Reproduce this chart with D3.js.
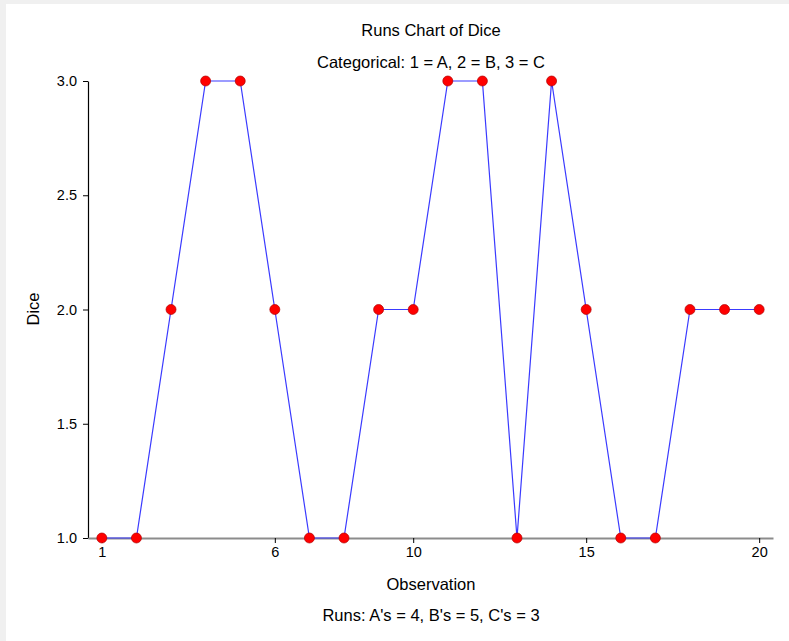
<!DOCTYPE html>
<html>
<head>
<meta charset="utf-8">
<script src="https://cdn.jsdelivr.net/npm/d3@7"></script>
<style>
  html, body { margin: 0; padding: 0; background: #f0f0f0; }
  svg { display: block; }
  text { font-family: "Liberation Sans", Arial, sans-serif; fill: #000; }
</style>
</head>
<body>
<script>
// Data
const observations = d3.range(1, 21);
const diceValues = [1, 1, 2, 3, 3, 2, 1, 1, 2, 2, 3, 3, 1, 3, 2, 1, 1, 2, 2, 2];
const xTickValues = [1, 6, 10, 15, 20];
const yTickValues = [1.0, 1.5, 2.0, 2.5, 3.0];
const titleText = "Runs Chart of Dice";
const subtitleText = "Categorical: 1 = A, 2 = B, 3 = C";
const xLabel = "Observation";
const yLabel = "Dice";
const footerText = "Runs: A's = 4, B's = 5, C's = 3";

const W = 789, H = 641;
const svg = d3.select("body").append("svg").attr("width", W).attr("height", H);

svg.append("rect").attr("x", 0).attr("y", 0).attr("width", W).attr("height", H).attr("fill", "#f0f0f0");
svg.append("rect").attr("x", 6).attr("y", 4).attr("width", W - 6).attr("height", H - 4).attr("fill", "#ffffff");

const x = d3.scaleLinear().domain([0.6, 20.4]).range([88, 773]);
const y = d3.scaleLinear().domain([1, 3]).range([538, 81]);

// Y axis
const yAxis = svg.append("g").attr("transform", `translate(${x.range()[0]},0)`)
  .call(d3.axisLeft(y).tickValues(yTickValues).tickFormat(d3.format(".1f")).tickSize(5).tickSizeOuter(0).tickPadding(6));
yAxis.select(".domain").attr("stroke", "#000").attr("stroke-width", 1.2);
yAxis.selectAll(".tick line").attr("stroke", "#000");
yAxis.selectAll("text").style("font-size", "14.5px").attr("fill", "#000");

// X axis
const xAxis = svg.append("g").attr("transform", `translate(0,${y(1)})`)
  .call(d3.axisBottom(x).tickValues(xTickValues).tickFormat(d3.format("d")).tickSize(5).tickSizeOuter(0).tickPadding(4));
xAxis.select(".domain").attr("stroke", "#8c8c8c").attr("stroke-width", 2);
xAxis.selectAll(".tick line").attr("stroke", "#000");
xAxis.selectAll("text").style("font-size", "14.5px").attr("fill", "#000");

// Line
const line = d3.line().x((d, i) => x(observations[i])).y(d => y(d));
svg.append("path").datum(diceValues)
  .attr("d", line)
  .attr("fill", "none")
  .attr("stroke", "#3a3aff")
  .attr("stroke-width", 1.2);

// Markers
svg.append("g").selectAll("circle").data(diceValues).join("circle")
  .attr("cx", (d, i) => x(observations[i]))
  .attr("cy", d => y(d))
  .attr("r", 5)
  .attr("fill", "#ff0000")
  .attr("stroke", "#b00000")
  .attr("stroke-width", 0.7);

// Texts
const cx = 431;
svg.append("text").attr("x", cx).attr("y", 36).attr("text-anchor", "middle").style("font-size", "16.5px").text(titleText);
svg.append("text").attr("x", cx).attr("y", 68).attr("text-anchor", "middle").style("font-size", "16.5px").text(subtitleText);
svg.append("text").attr("x", cx).attr("y", 590).attr("text-anchor", "middle").style("font-size", "16.5px").text(xLabel);
svg.append("text").attr("x", cx).attr("y", 621).attr("text-anchor", "middle").style("font-size", "16.5px").text(footerText);
svg.append("text").attr("transform", "translate(39,309) rotate(-90)").attr("text-anchor", "middle").style("font-size", "16.5px").text(yLabel);
</script>
</body>
</html>
